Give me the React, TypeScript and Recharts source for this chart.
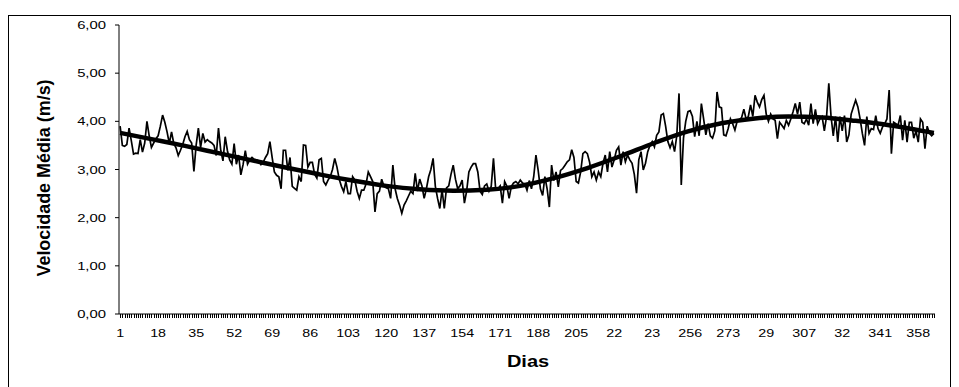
import React from 'react';
import { LineChart, Line, XAxis, YAxis, Label } from 'recharts';

// Daily mean wind speed (m/s), days 1..365
const speed: number[] = [
  3.90, 3.50, 3.48, 3.52, 3.86, 3.60, 3.32, 3.34, 3.33, 3.62,
  3.36, 3.55, 4.00, 3.70, 3.46, 3.55, 3.64, 3.70, 3.90, 4.13,
  3.98, 3.78, 3.54, 3.78, 3.54, 3.45, 3.29, 3.40, 3.52, 3.68,
  3.79, 3.62, 3.55, 2.96, 3.50, 3.86, 3.46, 3.75, 3.57, 3.62,
  3.58, 3.55, 3.50, 3.29, 3.86, 3.40, 3.18, 3.68, 3.39, 3.20,
  3.11, 3.54, 3.11, 3.30, 2.89, 3.10, 3.39, 3.11, 3.20, 3.25,
  3.21, 3.20, 3.18, 3.10, 3.15, 3.25, 3.33, 3.58, 3.25, 2.95,
  2.88, 2.85, 2.60, 3.40, 3.40, 2.98, 3.25, 2.65, 2.61, 2.57,
  2.85, 2.75, 3.51, 3.50, 3.05, 3.15, 3.15, 2.90, 2.82, 3.20,
  3.23, 2.75, 2.68, 2.78, 2.85, 3.00, 3.23, 3.05, 2.80, 2.65,
  2.54, 2.75, 2.50, 2.50, 2.85, 2.78, 2.55, 2.40, 2.57, 2.57,
  2.70, 2.95, 2.85, 2.75, 2.12, 2.50, 2.55, 2.80, 2.65, 2.62,
  2.60, 2.40, 3.09, 2.60, 2.40, 2.26, 2.09, 2.26, 2.35, 2.45,
  2.55, 2.50, 2.92, 2.55, 2.80, 2.66, 2.40, 2.60, 2.85, 3.00,
  3.23, 2.65, 2.40, 2.19, 2.58, 2.19, 2.62, 2.66, 2.90, 3.09,
  2.80, 2.60, 2.66, 2.78, 2.30, 2.55, 2.95, 3.05, 3.12, 3.12,
  2.95, 2.55, 2.48, 2.66, 2.70, 2.55, 2.65, 3.23, 2.58, 2.60,
  2.66, 2.30, 2.75, 2.65, 2.40, 2.65, 2.72, 2.75, 2.70, 2.78,
  2.72, 2.70, 2.57, 2.77, 2.60, 2.85, 3.30, 2.98, 2.60, 2.46,
  2.85, 2.60, 2.22, 3.09, 2.77, 2.95, 2.64, 2.98, 3.02, 3.09,
  3.16, 3.20, 3.41, 3.25, 2.75, 2.72, 2.95, 3.33, 3.37, 3.33,
  3.15, 2.85, 2.95, 2.78, 2.95, 2.85, 3.13, 3.30, 2.95, 3.37,
  3.05, 3.20, 3.40, 3.47, 3.09, 3.37, 3.16, 3.30, 3.20, 3.13,
  2.90, 2.51, 3.20, 3.37, 2.99, 3.13, 3.37, 3.50, 3.58, 3.47,
  3.71, 3.78, 4.13, 4.16, 3.90, 3.58, 3.45, 3.58, 3.37, 3.70,
  4.58, 2.68, 3.65, 4.00, 4.20, 4.22, 4.10, 3.68, 4.00, 3.70,
  4.37, 4.05, 3.72, 3.95, 3.70, 3.65, 3.80, 4.61, 4.30, 4.28,
  3.72, 3.70, 3.85, 4.05, 3.95, 3.82, 4.00, 4.03, 4.08, 4.25,
  4.05, 4.10, 4.34, 4.10, 4.54, 4.40, 4.30, 4.45, 4.54, 4.15,
  4.00, 4.15, 4.05, 4.02, 3.64, 3.98, 3.92, 3.85, 4.02, 3.92,
  4.05, 4.20, 4.37, 4.15, 4.40, 3.98, 3.95, 4.05, 3.92, 4.37,
  3.95, 4.25, 3.95, 4.05, 4.10, 3.80, 4.10, 4.79, 4.10, 3.70,
  4.10, 3.57, 4.10, 3.80, 4.12, 3.57, 3.72, 4.15, 4.30, 4.44,
  4.30, 4.05, 3.75, 3.50, 4.10, 3.75, 3.85, 3.83, 4.12, 3.85,
  3.75, 3.88, 3.95, 4.05, 4.65, 3.33, 3.98, 3.95, 3.92, 4.12,
  3.61, 4.02, 3.57, 3.98, 3.98, 3.65, 3.80, 3.57, 4.05, 3.98,
  3.43, 3.90, 3.75, 3.70, 3.75,
];

// Smoothed trend (read at selected days)
const trendDays: number[] = [1, 15, 30, 45, 60, 75, 90, 105, 120, 135, 150, 165, 180, 195, 210, 225, 240, 255, 270, 285, 300, 315, 330, 345, 365];
const trendValues: number[] = [3.76, 3.63, 3.49, 3.34, 3.19, 3.04, 2.90, 2.77, 2.66, 2.59, 2.56, 2.58, 2.66, 2.82, 3.03, 3.28, 3.55, 3.79, 3.96, 4.06, 4.10, 4.08, 4.01, 3.92, 3.76];

const xTickLabels: string[] = ['1', '18', '35', '52', '69', '86', '103', '120', '137', '154', '171', '188', '205', '22', '23', '256', '273', '29', '307', '32', '341', '358'];
const yTicks: number[] = [0, 1, 2, 3, 4, 5, 6];
const yTickLabels: string[] = ['0,00', '1,00', '2,00', '3,00', '4,00', '5,00', '6,00'];

const dailyData = speed.map((v, i) => ({ d: i + 1, v }));
const trendData = trendDays.map((d, i) => ({ d, v: trendValues[i] }));
const allDays = speed.map((_, i) => i + 1);

const FONT = '"Liberation Sans", Arial, sans-serif';
const AXIS_Y = 314;

const XTick = (props: any) => {
  const { x, payload } = props;
  const day = payload.value as number;
  const px = Math.round(x) + 0.5;
  const tickMark = (
    <line x1={px} x2={px} y1={AXIS_Y} y2={AXIS_Y + 4} stroke="#000" strokeWidth={1} shapeRendering="crispEdges" />
  );
  if ((day - 1) % 17 !== 0) return <g>{tickMark}</g>;
  const label = xTickLabels[(day - 1) / 17];
  return (
    <g>
      {tickMark}
      <text
        transform={`translate(${x},337) scale(1.3,1)`}
        textAnchor="middle"
        fontSize={11}
        fontFamily={FONT}
        fill="#000"
      >
        {label}
      </text>
    </g>
  );
};

const YTick = (props: any) => {
  const { y, payload } = props;
  const idx = yTicks.indexOf(payload.value);
  return (
    <text
      transform={`translate(106,${y + 4}) scale(1.35,1)`}
      textAnchor="end"
      fontSize={11}
      fontFamily={FONT}
      fill="#000"
    >
      {yTickLabels[idx]}
    </text>
  );
};

export default function App() {
  return (
    <div style={{ position: 'fixed', left: 0, top: 0, width: 959, height: 387, overflow: 'hidden', background: '#fff' }}>
      <div style={{ position: 'absolute', left: 8, top: 15, width: 941, height: 400, border: '1px solid #000' }} />
      <div style={{ position: 'absolute', left: 0, top: 0 }}>
        <LineChart width={959} height={387} margin={{ top: 25, right: 24, bottom: 43, left: 59 }}>
          <XAxis
            dataKey="d"
            type="number"
            domain={[0.5, 365.5]}
            ticks={allDays}
            interval={0}
            minTickGap={0}
            allowDataOverflow
            height={30}
            stroke="#000"
            tickLine={false}
            tick={<XTick />}
          >
            <Label
              content={() => (
                <text
                  transform="translate(528,367) scale(1.25,1)"
                  textAnchor="middle"
                  fontSize={16}
                  fontWeight="bold"
                  fontFamily={FONT}
                  fill="#000"
                >
                  Dias
                </text>
              )}
            />
          </XAxis>
          <YAxis
            type="number"
            domain={[0, 6]}
            ticks={yTicks}
            interval={0}
            width={60}
            stroke="#000"
            tickSize={4}
            tick={<YTick />}
          >
            <Label
              content={() => (
                <text
                  transform="translate(50,178) rotate(-90) scale(1.28,1.25)"
                  textAnchor="middle"
                  fontSize={14}
                  fontWeight="bold"
                  fontFamily={FONT}
                  fill="#000"
                >
                  Velocidade Média (m/s)
                </text>
              )}
            />
          </YAxis>
          <Line
            data={dailyData}
            dataKey="v"
            type="linear"
            stroke="#000"
            strokeWidth={1.7}
            dot={false}
            isAnimationActive={false}
          />
          <Line
            data={trendData}
            dataKey="v"
            type="monotone"
            stroke="#000"
            strokeWidth={4.5}
            dot={false}
            isAnimationActive={false}
          />
        </LineChart>
      </div>
    </div>
  );
}
